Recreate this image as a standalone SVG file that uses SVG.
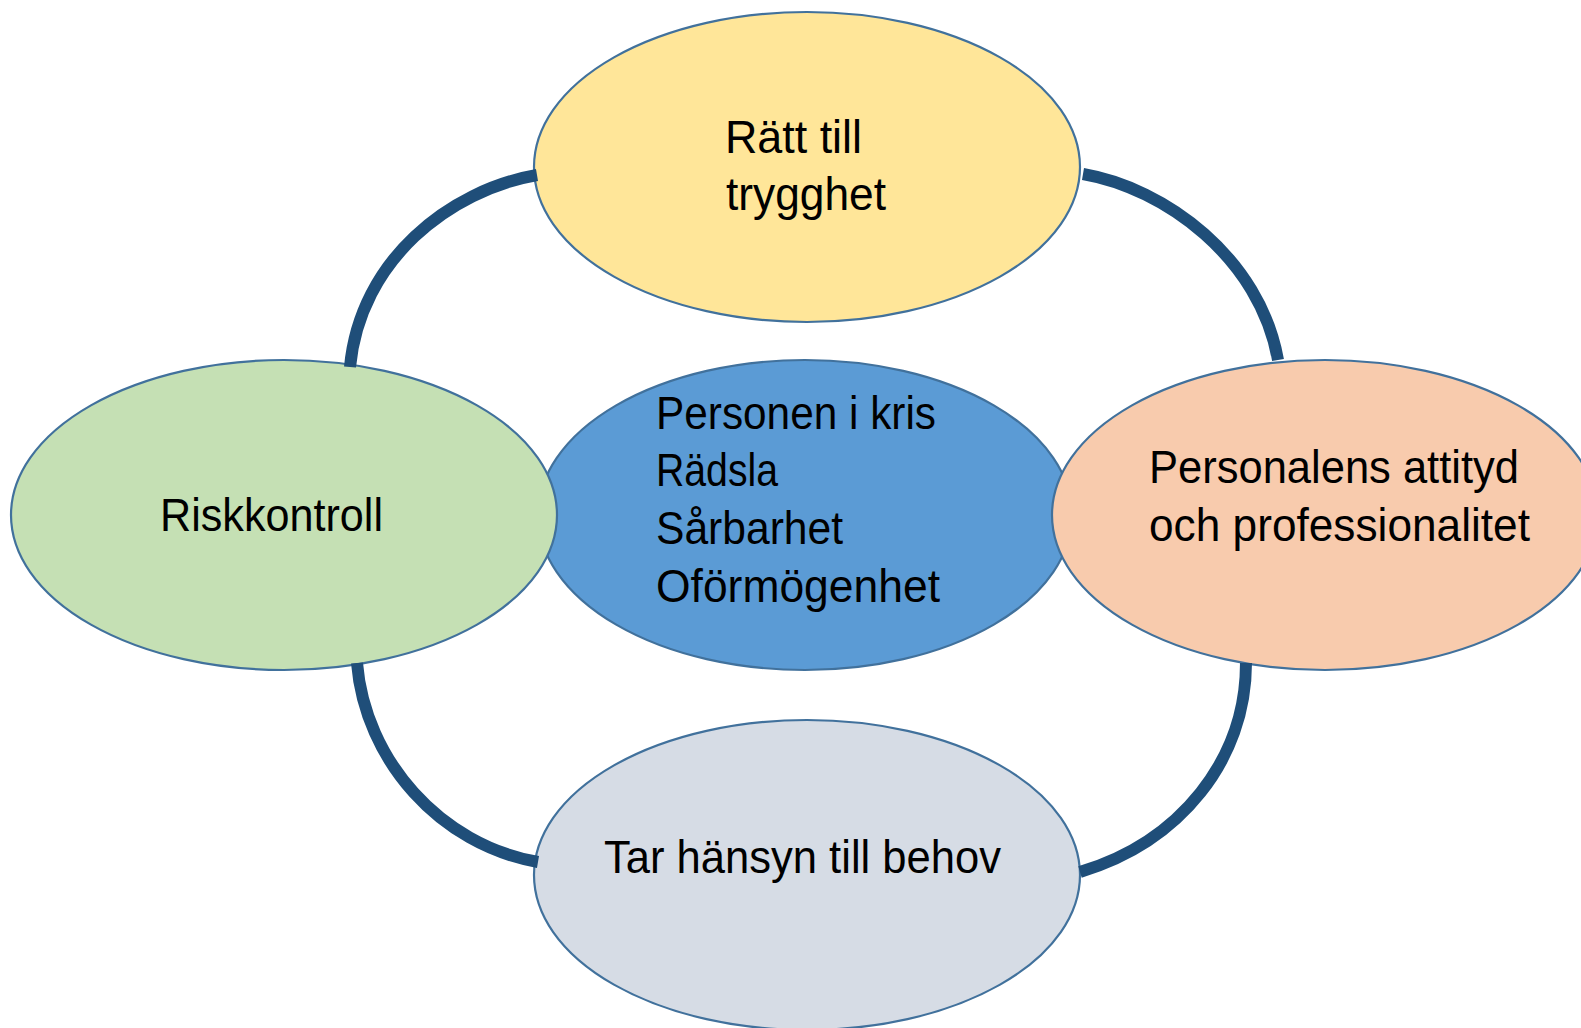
<svg xmlns="http://www.w3.org/2000/svg" width="1581" height="1028" viewBox="0 0 1581 1028">
<style>
.node{stroke:#41719C;stroke-width:2.2}
.lbl{font-family:"Liberation Sans",Arial,sans-serif;font-size:47px;fill:#000}
.arc{fill:none;stroke:#1F4E79;stroke-width:12;stroke-linecap:butt}
</style>
<rect width="1581" height="1028" fill="#fff"/>
<g id="node-center">
<ellipse class="node" cx="805" cy="515" rx="267" ry="155" fill="#5B9BD5"/>
<text class="lbl" x="656" y="429" textLength="280" lengthAdjust="spacingAndGlyphs">Personen i kris</text>
<text class="lbl" x="656" y="486" textLength="122" lengthAdjust="spacingAndGlyphs">Rädsla</text>
<text class="lbl" x="656" y="544" textLength="187" lengthAdjust="spacingAndGlyphs">Sårbarhet</text>
<text class="lbl" x="656" y="602" textLength="284" lengthAdjust="spacingAndGlyphs">Oförmögenhet</text>
</g>
<g id="node-top">
<ellipse class="node" cx="807" cy="167" rx="273" ry="155" fill="#FFE699"/>
<text class="lbl" x="725" y="153" textLength="137" lengthAdjust="spacingAndGlyphs">Rätt till</text>
<text class="lbl" x="726" y="210" textLength="160" lengthAdjust="spacingAndGlyphs">trygghet</text>
</g>
<g id="node-left">
<ellipse class="node" cx="284" cy="515" rx="273" ry="155" fill="#C5E0B4"/>
<text class="lbl" x="160" y="531" textLength="223" lengthAdjust="spacingAndGlyphs">Riskkontroll</text>
</g>
<g id="node-right">
<ellipse class="node" cx="1325" cy="515" rx="273" ry="155" fill="#F8CBAD"/>
<text class="lbl" x="1149" y="483" textLength="370" lengthAdjust="spacingAndGlyphs">Personalens attityd</text>
<text class="lbl" x="1149" y="541" textLength="381" lengthAdjust="spacingAndGlyphs">och professionalitet</text>
</g>
<g id="node-bottom">
<ellipse class="node" cx="807" cy="875" rx="273" ry="155" fill="#D6DCE5"/>
<text class="lbl" x="604" y="873" textLength="397" lengthAdjust="spacingAndGlyphs">Tar hänsyn till behov</text>
</g>
<g id="connectors">
<path class="arc" d="M537,175 C450,190 360,260 350,367"/>
<path class="arc" d="M1083,174 C1165,188 1260,258 1278,360"/>
<path class="arc" d="M357,663 C365,760 440,845 538,862"/>
<path class="arc" d="M1246,663 C1246,760 1180,842 1080,872"/>
</g>
</svg>
